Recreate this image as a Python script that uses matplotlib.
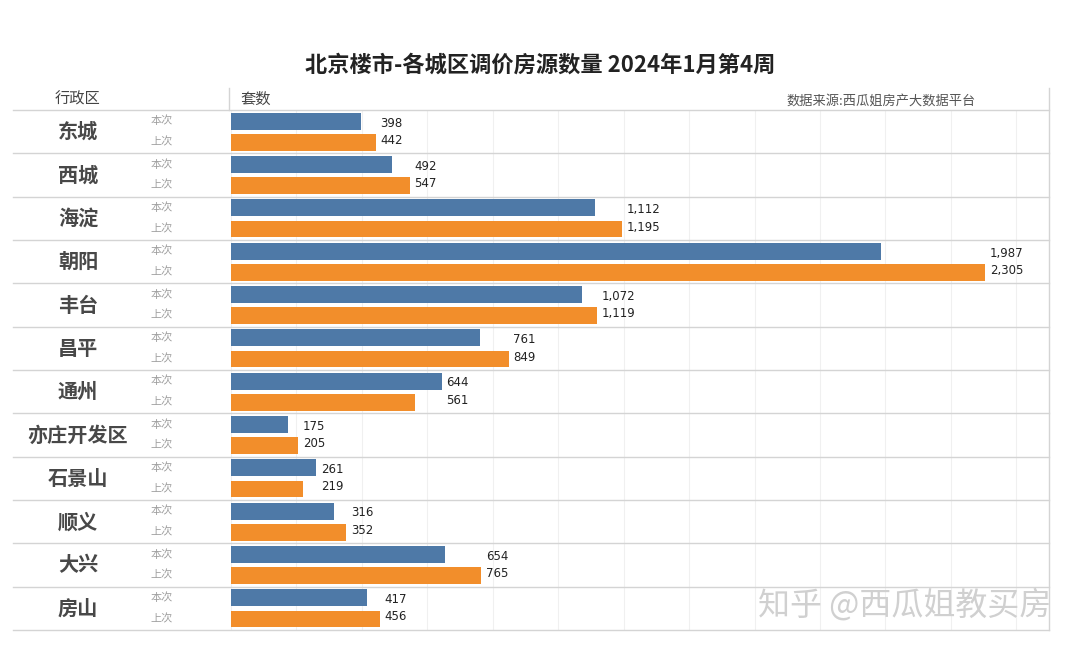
import matplotlib.pyplot as plt
import matplotlib.transforms as mtransforms
import numpy as np

plt.rcParams['font.family'] = ['Noto Sans CJK SC', 'DejaVu Sans']

districts = ["东城", "西城", "海淀", "朝阳", "丰台", "昌平", "通州",
             "亦庄开发区", "石景山", "顺义", "大兴", "房山"]
this_week = [398, 492, 1112, 1987, 1072, 761, 644, 175, 261, 316, 654, 417]
last_week = [442, 547, 1195, 2305, 1119, 849, 561, 205, 219, 352, 765, 456]
series_names = ["本次", "上次"]

title = "北京楼市-各城区调价房源数量 2024年1月第4周"
source = "数据来源:西瓜姐房产大数据平台"

W, H = 1080, 651
fig = plt.figure(figsize=(W / 100, H / 100), dpi=100)

# bar area in pixel coords
x0, x1, y_top, y_bot = 231, 1049, 110, 630
ax = fig.add_axes([x0 / W, 1 - y_bot / H, (x1 - x0) / W, (y_bot - y_top) / H])

n = len(districts)
pos = np.arange(n)
off = 0.245
ax.barh(pos - off, this_week, height=0.39, color="#4e79a7")
ax.barh(pos + off, last_week, height=0.39, color="#f28e2b")

ax.set_xlim(0, 2500)
ax.set_ylim(n - 0.5, -0.5)
ax.set_xticks(np.arange(0, 2500, 200))
ax.grid(axis="x", color="#f0f0f0", linewidth=0.8)
ax.set_axisbelow(True)
ax.tick_params(left=False, bottom=False, labelleft=False, labelbottom=False)
for s in ax.spines.values():
    s.set_visible(False)

# value labels, placed after the longer bar of each pair
for i in range(n):
    xm = max(this_week[i], last_week[i]) + 14
    ax.text(xm, i - 0.2, f"{this_week[i]:,}", va="center", ha="left",
            fontsize=8.5, color="#222222", family="DejaVu Sans")
    ax.text(xm, i + 0.2, f"{last_week[i]:,}", va="center", ha="left",
            fontsize=8.5, color="#222222", family="DejaVu Sans")

# row separators
left_frac = (13 - x0) / (x1 - x0)
for i in range(n + 1):
    ax.axhline(i - 0.5, xmin=left_frac, xmax=1, color="#d4d4d4",
               linewidth=1, clip_on=False)

# left side labels
tr = mtransforms.blended_transform_factory(fig.transFigure, ax.transData)
for i, d in enumerate(districts):
    fig.text(78 / W, i, d, transform=tr, ha="center", va="center",
             fontsize=14.5, fontweight="bold", color="#484848")
    fig.text(162 / W, i - 0.245, series_names[0], transform=tr, ha="center",
             va="center", fontsize=8, color="#a0a0a0")
    fig.text(162 / W, i + 0.245, series_names[1], transform=tr, ha="center",
             va="center", fontsize=8, color="#a0a0a0")

# header row
fig.text(78 / W, 1 - 99 / H, "行政区", ha="center", va="center",
         fontsize=11, color="#444444")
fig.text(240 / W, 1 - 99 / H, "套数", ha="left", va="center",
         fontsize=11, color="#444444")
fig.text(881 / W, 1 - 101 / H, source, ha="center", va="center",
         fontsize=9.5, color="#555555")
fig.add_artist(plt.Line2D([229 / W, 229 / W], [1 - 88 / H, 1 - 110 / H],
                          color="#d4d4d4", linewidth=1))
fig.add_artist(plt.Line2D([1049 / W, 1049 / W], [1 - 88 / H, 1 - 630 / H],
                          color="#d4d4d4", linewidth=1))

fig.text(540 / W, 1 - 65 / H, title, ha="center", va="center",
         fontsize=16, fontweight="bold", color="#222222")

# watermark
fig.text(905 / W, 1 - 605 / H, "知乎 @西瓜姐教买房", ha="center", va="center",
         fontsize=23, color="#d0d0d0")

fig.savefig("out.png", dpi=100, facecolor="white")
